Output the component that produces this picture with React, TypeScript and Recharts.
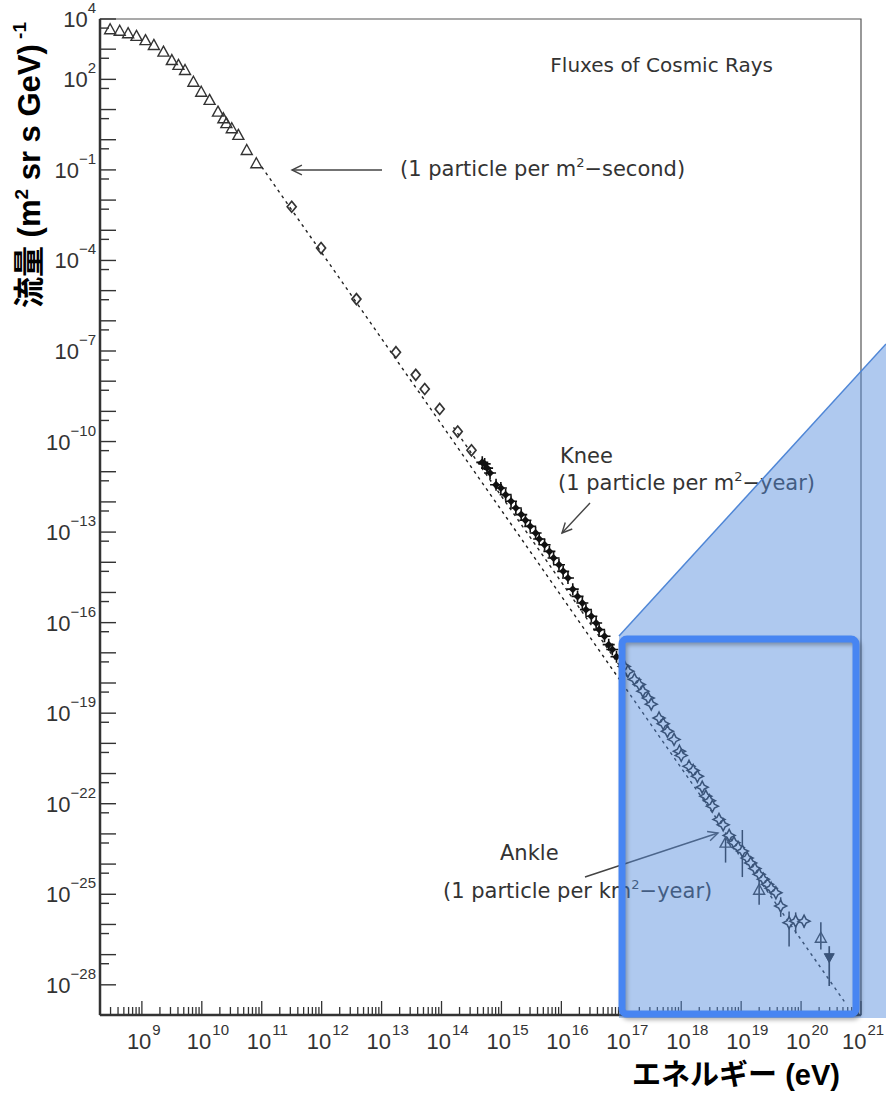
import React from 'react';
import { ScatterChart, Scatter, XAxis, YAxis, ErrorBar, ReferenceLine, ReferenceArea } from 'recharts';

const W = 886;
const H = 1093;

const X_MIN = 2e8;
const X_MAX = 1e21;
const Y_MIN = 1e-29;
const Y_MAX = 1e4;

// all values are log10: energy in eV, flux in (m^2 sr s GeV)^-1
const lowTriE = [8.47, 8.63, 8.77, 8.91, 9.06, 9.2, 9.36, 9.5, 9.61, 9.72, 9.86, 9.99, 10.13, 10.27, 10.36, 10.41, 10.5, 10.61, 10.75, 10.91];
const lowTriF = [3.66, 3.61, 3.53, 3.44, 3.3, 3.14, 2.92, 2.64, 2.48, 2.31, 1.92, 1.59, 1.32, 0.93, 0.71, 0.55, 0.38, 0.16, -0.34, -0.78];

const diamondE = [11.5, 11.99, 12.58, 13.24, 13.57, 13.72, 13.97, 14.27, 14.5];
const diamondF = [-2.22, -3.59, -5.28, -7.04, -7.79, -8.26, -8.92, -9.67, -10.29];

const kneeE = [14.68, 14.72, 14.76, 14.81, 14.91, 14.99, 15.07, 15.16, 15.24, 15.33, 15.4, 15.48, 15.57, 15.63, 15.72, 15.8, 15.87, 15.96, 16.03, 16.11, 16.19, 16.27, 16.35, 16.41, 16.5, 16.58, 16.63, 16.72, 16.79, 16.85, 16.92];
const kneeF = [-10.69, -10.74, -10.88, -11.04, -11.43, -11.54, -11.76, -11.98, -12.2, -12.42, -12.61, -12.81, -13.03, -13.23, -13.42, -13.64, -13.86, -14.08, -14.3, -14.52, -14.89, -15.13, -15.35, -15.57, -15.79, -16.01, -16.23, -16.45, -16.73, -16.89, -17.13];

const uheStarE = [17.05, 17.11, 17.22, 17.3, 17.36, 17.45, 17.5, 17.63, 17.7, 17.77, 17.88, 17.97, 18.0, 18.13, 18.2, 18.27, 18.35, 18.41, 18.47, 18.52, 18.63, 18.7, 18.8, 18.88, 18.95, 19.02, 19.1, 19.16, 19.23, 19.3, 19.37, 19.44, 19.5, 19.58, 19.66, 19.8, 19.91, 20.05];
const uheStarF = [-17.45, -17.61, -17.88, -18.05, -18.27, -18.5, -18.7, -19.16, -19.35, -19.6, -19.87, -20.26, -20.4, -20.76, -20.9, -21.09, -21.45, -21.75, -21.9, -22.08, -22.52, -22.7, -23.05, -23.29, -23.45, -23.57, -23.8, -23.96, -24.15, -24.34, -24.5, -24.67, -24.8, -24.95, -25.39, -25.94, -25.89, -25.89];
const uheStarLo = [-17.45, -17.61, -17.88, -18.05, -18.27, -18.5, -18.7, -19.16, -19.35, -19.6, -19.87, -20.26, -20.4, -20.76, -20.9, -21.09, -21.45, -21.75, -21.9, -22.08, -22.52, -22.7, -23.05, -23.29, -23.45, -24.43, -23.8, -23.96, -24.15, -24.34, -24.5, -24.67, -24.8, -24.95, -25.75, -26.73, -26.3, -26.1];
const uheStarHi = [-17.45, -17.61, -17.88, -18.05, -18.27, -18.5, -18.7, -19.16, -19.35, -19.6, -19.87, -20.26, -20.4, -20.76, -20.9, -21.09, -21.45, -21.75, -21.9, -22.08, -22.52, -22.7, -23.05, -23.29, -23.45, -22.87, -23.8, -23.96, -24.15, -24.34, -24.5, -24.67, -24.8, -24.95, -25.1, -25.57, -25.6, -25.7];

const uheTriE = [18.74, 19.3, 20.33];
const uheTriF = [-23.29, -24.85, -26.44];
const uheTriLo = [-23.95, -25.35, -26.83];
const uheTriHi = [-22.95, -24.55, -25.93];

const limitE = [20.47];
const limitF = [-27.1];
const limitLo = [-28.04];
const limitHi = [-26.72];

// dotted power-law guides (log10 E, log10 F)
const guideA = [[11.0, -0.9], [20.72, -28.55]];
const guideB = [[14.2, -9.53], [17.1, -17.79]];

const Y_LABELS = [4, 2, -1, -4, -7, -10, -13, -16, -19, -22, -25, -28];

const pts = (e: number[], f: number[]) => e.map((v, i) => ({ x: 10 ** v, y: 10 ** f[i] }));
const ptsErr = (e: number[], f: number[], lo: number[], hi: number[]) =>
  e.map((v, i) => {
    const y = 10 ** f[i];
    return { x: 10 ** v, y, err: [y - 10 ** lo[i], 10 ** hi[i] - y] };
  });

const xTicks: number[] = [];
for (let n = 8; n <= 20; n++) {
  for (let k = 1; k <= 9; k++) {
    const v = k * 10 ** n;
    if (v >= X_MIN && v <= X_MAX) xTicks.push(v);
  }
}
xTicks.push(X_MAX);

const yTicks: number[] = [];
for (let n = -28; n <= 4; n++) {
  yTicks.push(10 ** n);
  if (n > -28) yTicks.push(0.5 * 10 ** n);
}

const INK = '#333';
const NUM_FONT = '"Liberation Sans", Arial, sans-serif';
const NOTE_FONT = '"DejaVu Sans", sans-serif';
const LABEL_FONT = '"Liberation Sans", "Noto Sans CJK JP", sans-serif';

const expText = (n: number) => (n < 0 ? `\u2212${-n}` : `${n}`);

const XTick = (props: any) => {
  const { x, y, payload } = props;
  const lg = Math.log10(payload.value);
  const n = Math.round(lg);
  const major = Math.abs(lg - n) < 1e-6;
  // the last label sits at the page edge, nudge it in
  const shift = n === 21 ? 19 : 15;
  return (
    <g>
      <line x1={x} x2={x} y1={y} y2={y - (major ? 14 : 8)} stroke={INK} strokeWidth={1.3} />
      {major && n >= 9 && (
        <text x={x - shift} y={y + 34} fontSize={22} fill={INK} fontFamily={NUM_FONT}>
          <tspan>10</tspan>
          <tspan dy={-14} dx={1} fontSize={15}>{expText(n)}</tspan>
        </text>
      )}
    </g>
  );
};

const YTick = (props: any) => {
  const { x, y, payload } = props;
  const lg = Math.log10(payload.value);
  const n = Math.round(lg);
  const major = Math.abs(lg - n) < 1e-6;
  return (
    <g>
      <line x1={x} x2={x + (major ? 16 : 9)} y1={y} y2={y} stroke={INK} strokeWidth={1.4} />
      {major && Y_LABELS.includes(n) && (
        <text x={96} y={y + 8} textAnchor="end" fontSize={22} fill={INK} fontFamily={NUM_FONT}>
          <tspan>10</tspan>
          <tspan dy={-14} fontSize={15}>{expText(n)}</tspan>
        </text>
      )}
    </g>
  );
};

const OpenTriangle = (p: any) => (
  <path d={`M${p.cx},${p.cy - 5.5}L${p.cx + 5.5},${p.cy + 4.5}L${p.cx - 5.5},${p.cy + 4.5}Z`} fill="none" stroke={INK} strokeWidth={1.4} />
);
const OpenDiamond = (p: any) => (
  <path d={`M${p.cx},${p.cy - 5.5}L${p.cx + 4.5},${p.cy}L${p.cx},${p.cy + 5.5}L${p.cx - 4.5},${p.cy}Z`} fill="none" stroke={INK} strokeWidth={1.7} />
);
const KneeStar = (p: any) => (
  <g>
    <path d={`M${p.cx - 6},${p.cy}L${p.cx + 6},${p.cy}M${p.cx},${p.cy - 6}L${p.cx},${p.cy + 6}`} stroke="#111" strokeWidth={1.6} />
    <path d={`M${p.cx},${p.cy - 4}L${p.cx + 4},${p.cy}L${p.cx},${p.cy + 4}L${p.cx - 4},${p.cy}Z`} fill="#111" />
  </g>
);
const OpenStar = (p: any) => {
  const { cx, cy } = p;
  const r = 6;
  const s = 2;
  return (
    <path
      d={`M${cx},${cy - r}L${cx + s},${cy - s}L${cx + r},${cy}L${cx + s},${cy + s}L${cx},${cy + r}L${cx - s},${cy + s}L${cx - r},${cy}L${cx - s},${cy - s}Z`}
      fill="#fff"
      stroke="#222"
      strokeWidth={1.5}
    />
  );
};
const DownTriangle = (p: any) => (
  <path d={`M${p.cx - 5},${p.cy - 4}L${p.cx + 5},${p.cy - 4}L${p.cx},${p.cy + 5}Z`} fill="#222" stroke="#222" strokeWidth={1} />
);

function Arrow({ x1, y1, x2, y2 }: { x1: number; y1: number; x2: number; y2: number }) {
  const a = Math.atan2(y2 - y1, x2 - x1);
  const h = 11;
  const s = 0.45;
  const p1 = [x2 - h * Math.cos(a - s), y2 - h * Math.sin(a - s)];
  const p2 = [x2 - h * Math.cos(a + s), y2 - h * Math.sin(a + s)];
  return (
    <g stroke="#444" strokeWidth={1.4} fill="none">
      <line x1={x1} y1={y1} x2={x2} y2={y2} />
      <polyline points={`${p1[0]},${p1[1]} ${x2},${y2} ${p2[0]},${p2[1]}`} />
    </g>
  );
}

export default function App() {
  const guide = (g: number[][]) => g.map(([e, f]) => ({ x: 10 ** e, y: 10 ** f }));
  return (
    <div style={{ position: 'relative', width: W, height: H, background: '#fff' }}>
      <style>{'body{margin:0}'}</style>
      <ScatterChart width={W} height={H} margin={{ top: 19, right: 25, bottom: 0, left: 0 }}>
        <ReferenceArea x1={X_MIN} x2={X_MAX} y1={Y_MIN} y2={Y_MAX} fill="none" stroke="#555" strokeWidth={1.2} ifOverflow="visible" />
        <XAxis
          type="number"
          dataKey="x"
          scale="log"
          domain={[X_MIN, X_MAX]}
          allowDataOverflow
          ticks={xTicks}
          interval={0}
          height={78}
          tickSize={0}
          tickMargin={0}
          tickLine={false}
          axisLine={{ stroke: INK, strokeWidth: 2.5 }}
          tick={<XTick />}
        />
        <YAxis
          type="number"
          dataKey="y"
          scale="log"
          domain={[Y_MIN, Y_MAX]}
          allowDataOverflow
          ticks={yTicks}
          interval={0}
          width={100}
          tickSize={0}
          tickMargin={0}
          tickLine={false}
          axisLine={{ stroke: INK, strokeWidth: 2.5 }}
          tick={<YTick />}
        />
        <ReferenceLine segment={guide(guideA)} stroke="#222" strokeWidth={1.4} strokeDasharray="3 4" ifOverflow="visible" />
        <ReferenceLine segment={guide(guideB)} stroke="#222" strokeWidth={1.4} strokeDasharray="3 4" ifOverflow="visible" />
        <Scatter data={pts(lowTriE, lowTriF)} shape={<OpenTriangle />} isAnimationActive={false} />
        <Scatter data={pts(diamondE, diamondF)} shape={<OpenDiamond />} isAnimationActive={false} />
        <Scatter data={pts(kneeE, kneeF)} shape={<KneeStar />} isAnimationActive={false} />
        <Scatter data={ptsErr(uheStarE, uheStarF, uheStarLo, uheStarHi)} shape={<OpenStar />} isAnimationActive={false}>
          <ErrorBar dataKey="err" direction="y" width={0} stroke="#222" strokeWidth={1.5} />
        </Scatter>
        <Scatter data={ptsErr(uheTriE, uheTriF, uheTriLo, uheTriHi)} shape={<OpenTriangle />} isAnimationActive={false}>
          <ErrorBar dataKey="err" direction="y" width={0} stroke="#222" strokeWidth={1.5} />
        </Scatter>
        <Scatter data={ptsErr(limitE, limitF, limitLo, limitHi)} shape={<DownTriangle />} isAnimationActive={false}>
          <ErrorBar dataKey="err" direction="y" width={0} stroke="#222" strokeWidth={1.7} />
        </Scatter>
      </ScatterChart>

      <svg width={W} height={H} style={{ position: 'absolute', left: 0, top: 0, pointerEvents: 'none' }}>
        <g fontFamily={NOTE_FONT} fontSize={21} fill="#333">
          <text x={773} y={72} textAnchor="end" fontSize={20}>Fluxes of Cosmic Rays</text>
          <text x={400} y={176}>(1 particle per m<tspan fontSize={13} dy={-9}>2</tspan><tspan dy={9}>−second)</tspan></text>
          <text x={560} y={463}>Knee</text>
          <text x={558} y={490}>(1 particle per m<tspan fontSize={13} dy={-9}>2</tspan><tspan dy={9}>−year)</tspan></text>
          <text x={500} y={860}>Ankle</text>
          <text x={443} y={898}>(1 particle per km<tspan fontSize={13} dy={-9}>2</tspan><tspan dy={9}>−year)</tspan></text>
        </g>
        <Arrow x1={382} y1={170} x2={292} y2={170} />
        <Arrow x1={590} y1={503} x2={562} y2={533} />
        <Arrow x1={585} y1={877} x2={718} y2={833} />
        <text
          transform="translate(40,165) rotate(-90)"
          textAnchor="middle"
          fontFamily={LABEL_FONT}
          fontWeight="bold"
          fontSize={31}
          fill="#000"
        >
          流量 (m<tspan fontSize={19} dy={-12}>2</tspan>
          <tspan dy={12}> sr s GeV)</tspan>
          <tspan fontSize={19} dy={-14}> -1</tspan>
        </text>
        <text x={736} y={1085} textAnchor="middle" fontFamily={LABEL_FONT} fontWeight="bold" fontSize={29} fill="#000">
          エネルギー (eV)
        </text>
      </svg>

      <svg width={W} height={H} style={{ position: 'absolute', left: 0, top: 0, pointerEvents: 'none' }}>
        <defs>
          <filter id="shadow" x="-10%" y="-10%" width="120%" height="120%">
            <feGaussianBlur stdDeviation="2" />
          </filter>
        </defs>
        <polygon points="619,636 886,344 886,1018 619,1018" fill="rgb(84,140,222)" fillOpacity={0.47} />
        <line x1={619} y1={636} x2={886} y2={344} stroke="#4f86d6" strokeWidth={1.5} />
        <rect x={624} y={642} width={234} height={375} rx={5} fill="none" stroke="rgba(0,0,0,0.3)" strokeWidth={6} filter="url(#shadow)" />
        <rect x={622} y={639} width={234} height={375} rx={5} fill="none" stroke="#4785f2" strokeWidth={7} />
      </svg>
    </div>
  );
}
